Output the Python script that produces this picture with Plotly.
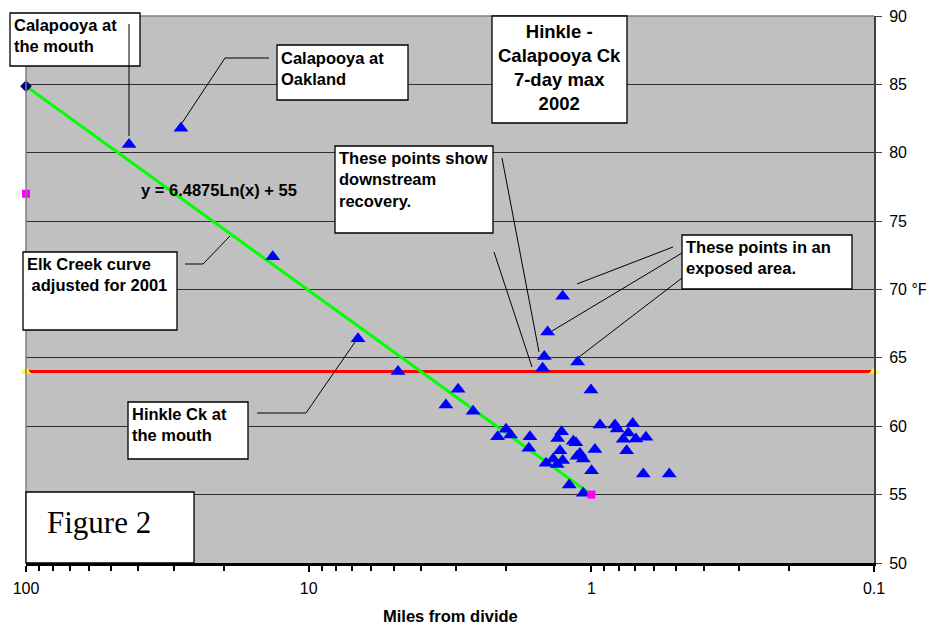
import plotly.graph_objects as go

# ---------------- data ----------------
obs_x = [43.2, 28.3, 13.4, 6.69, 4.83,
         2.96, 3.27, 2.62,
         2.145, 2.004, 1.93, 1.649, 1.663,
         1.263, 1.428, 1.467, 1.487, 1.118, 1.003,
         1.274, 1.316, 1.159, 1.134, 1.291, 1.364, 1.447, 1.320, 1.263, 1.097,
         1.068, 1.124, 0.971, 0.998, 1.197, 1.068, 0.932, 0.825, 0.810, 0.714,
         0.740, 0.771, 0.696, 0.641, 0.750, 0.655, 0.530]
obs_y = [80.6, 81.8, 72.4, 66.4, 64.0,
         62.7, 61.55, 61.1,
         59.24, 59.78, 59.36, 59.24, 58.39,
         69.5, 66.9, 65.1, 64.24, 64.7, 62.65,
         59.6, 59.1, 58.9, 58.8, 58.2, 57.6, 57.3, 57.2, 57.5, 58.0,
         57.6, 57.8, 58.3, 56.75, 55.7, 55.1, 60.1, 60.1, 59.8, 60.2,
         59.5, 59.05, 59.07, 59.2, 58.2, 56.5, 56.5]

curve_x = [100, 1]          # Elk Creek curve, y = 6.4875Ln(x) + 55
curve_y = [84.87, 55.0]

criterion_x = [100, 0.1]    # 64 °F standard
criterion_y = [64, 64]

mouth_x = [100]
mouth_y = [84.87]
elk_x = [100]
elk_y = [77]
end_x = [1]
end_y = [55]

x_tickvals = [100, 10, 1, 0.1]
x_ticktext = ["100", "10", "1", "0.1"]
x_minor = [90, 80, 70, 60, 50, 40, 30, 20, 9, 8, 7, 6, 5, 4, 3, 2,
           0.9, 0.8, 0.7, 0.6, 0.5, 0.4, 0.3, 0.2]
y_tickvals = [50, 55, 60, 65, 70, 75, 80, 85, 90]
y_ticktext = ["50", "55", "60", "65", "70 °F", "75", "80", "85", "90"]

# ---------------- layout helpers (screen pixels) ----------------
OFF = 8                      # default page body margin
SW, SH = 934, 625
W, H = SW - OFF, SH - OFF
L, R, T, B = 26, 874, 16, 563   # plot area in screen pixels


def px(x):
    return (x - L) / (R - L)


def py(y):
    return (B - y) / (B - T)


ARIAL = "Arial, Liberation Sans, sans-serif"

fig = go.Figure()

fig.add_trace(go.Scatter(x=criterion_x, y=criterion_y, mode="lines+markers",
                         line=dict(color="#FF0000", width=3),
                         marker=dict(symbol="triangle-up", size=9, color="#FFFF00"),
                         cliponaxis=False, showlegend=False))
fig.add_trace(go.Scatter(x=curve_x, y=curve_y, mode="lines",
                         line=dict(color="#00FF00", width=3), showlegend=False))
fig.add_trace(go.Scatter(x=obs_x, y=obs_y, mode="markers",
                         marker=dict(symbol="triangle-up", size=13, color="#0000FF"),
                         showlegend=False))
fig.add_trace(go.Scatter(x=mouth_x, y=mouth_y, mode="markers",
                         marker=dict(symbol="diamond", size=9, color="#000080"),
                         cliponaxis=False, showlegend=False))
fig.add_trace(go.Scatter(x=elk_x, y=elk_y, mode="markers",
                         marker=dict(symbol="square", size=8, color="#FF00FF"),
                         cliponaxis=False, showlegend=False))
fig.add_trace(go.Scatter(x=end_x, y=end_y, mode="markers",
                         marker=dict(symbol="square", size=8, color="#FF00FF"),
                         cliponaxis=False, showlegend=False))

shapes = []
shapes.append(dict(type="line", xref="paper", yref="paper", x0=0, x1=0, y0=0, y1=1,
                   line=dict(color="#808080", width=1.5), layer="above"))
shapes.append(dict(type="line", xref="paper", yref="paper", x0=0, x1=1, y0=1, y1=1,
                   line=dict(color="#808080", width=1.5), layer="above"))

boxes = [(10, 13, 140, 66), (277, 45, 408, 100), (492, 16, 627, 123),
         (335, 146, 493, 233), (682, 235, 852, 289), (23, 252, 177, 330),
         (128, 402, 248, 459), (26, 492, 194, 563)]
for (x0, y0, x1, y1) in boxes:
    shapes.append(dict(type="rect", xref="paper", yref="paper",
                       x0=px(x0), x1=px(x1), y0=py(y1), y1=py(y0),
                       fillcolor="white", line=dict(color="black", width=1.3),
                       layer="above"))

leaders = [
    [(129, 24), (129, 136)],
    [(269, 58), (225, 58), (182, 123)],
    [(502, 158), (539, 352)],
    [(494, 252), (532, 367)],
    [(577, 284), (673, 247)],
    [(682, 253), (552, 331)],
    [(682, 278), (579, 357)],
    [(185, 264), (203, 264), (230, 236)],
    [(257, 413), (306, 413), (355, 342)],
]
for pts in leaders:
    for (a, b) in zip(pts[:-1], pts[1:]):
        shapes.append(dict(type="line", xref="paper", yref="paper",
                           x0=px(a[0]), y0=py(a[1]), x1=px(b[0]), y1=py(b[1]),
                           line=dict(color="black", width=1), layer="above"))

ann = []


def text(x, y, s, size=16.5, align="left", xanchor="left", yanchor="top",
         family=ARIAL, bold=True):
    ann.append(dict(xref="paper", yref="paper", x=px(x), y=py(y),
                    text=("<b>%s</b>" % s) if bold else s,
                    showarrow=False, xanchor=xanchor, yanchor=yanchor, align=align,
                    font=dict(family=family, size=size, color="black")))


text(12, 14, "Calapooya at<br>the mouth")
text(279, 47, "Calapooya at<br>Oakland")
text(559.5, 19, "Hinkle -<br>Calapooya Ck<br>7-day max<br>2002", size=18.5,
     align="center", xanchor="center")
text(337, 147, "These points show<br>downstream<br>recovery.")
text(684, 236, "These points in an<br>exposed area.")
text(25, 253, "Elk Creek curve<br>\u00a0adjusted for 2001")
text(130, 403, "Hinkle Ck at<br>the mouth")
text(139, 190, "y = 6.4875Ln(x) + 55", yanchor="middle")
text(45, 522, "Figure 2", size=31, yanchor="middle",
     family="Times New Roman, Liberation Serif, serif", bold=False)
text(450, 616, "Miles from divide", xanchor="center", yanchor="middle")

fig.update_layout(
    width=W, height=H,
    margin=dict(l=L - OFF, r=SW - R, t=T - OFF, b=SH - B, pad=0, autoexpand=False),
    paper_bgcolor="white", plot_bgcolor="#C0C0C0",
    shapes=shapes, annotations=ann,
    font=dict(family=ARIAL, size=16, color="black"),
    xaxis=dict(type="log", range=[2, -1], showgrid=False, zeroline=False,
               automargin=False,
               showline=True, linecolor="black", linewidth=2.5,
               ticks="outside", ticklen=6, tickwidth=2, tickcolor="black",
               tickvals=x_tickvals, ticktext=x_ticktext,
               ticklabelstandoff=3, ticklabeloverflow="allow",
               minor=dict(tickvals=x_minor, ticks="outside", ticklen=5,
                          tickwidth=2, tickcolor="black", showgrid=False),
               tickfont=dict(size=16, family=ARIAL)),
    yaxis=dict(side="right", range=[50, 90], showgrid=True, gridcolor="#303030",
               automargin=False,
               gridwidth=1, zeroline=False, showline=True, linecolor="#404040",
               linewidth=2, ticks="outside", ticklen=6, tickcolor="#404040",
               tickvals=y_tickvals, ticktext=y_ticktext, ticklabelstandoff=4,
               ticklabeloverflow="allow",
               tickfont=dict(size=16, family=ARIAL)),
)

fig.write_html("out.html")
